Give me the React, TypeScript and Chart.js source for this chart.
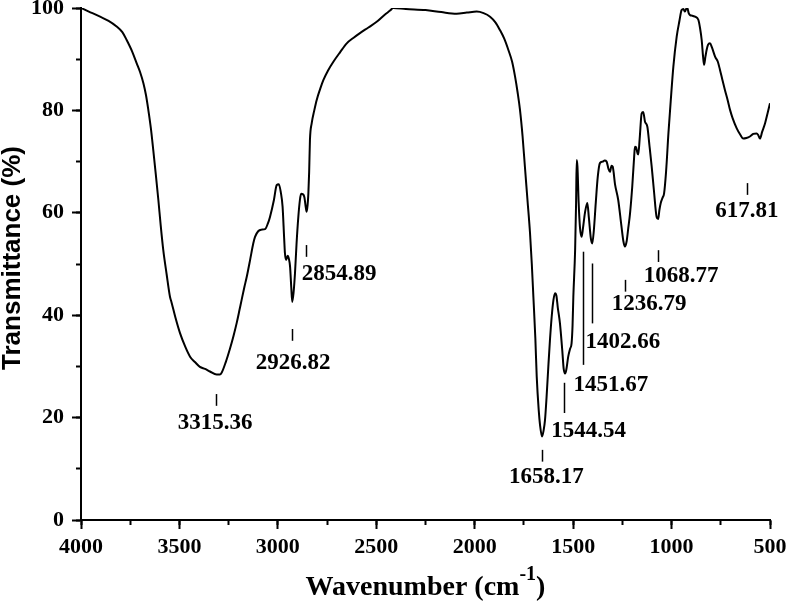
import React, { useEffect, useRef } from 'react';
import { Chart, registerables } from 'chart.js';

Chart.register(...registerables);

// ---- Spectrum data (wavenumber in cm-1, transmittance in %) ----
const wavenumbers = [
  4000, 3960, 3903, 3860, 3819, 3790, 3768, 3740, 3717, 3700, 3683, 3670, 3658, 3645, 3633, 3620, 3607, 3595, 3582, 3565,
  3548, 3540, 3520, 3497, 3470, 3446, 3420, 3396, 3370, 3345, 3311, 3295, 3285, 3265, 3243, 3225, 3209, 3195, 3184, 3170,
  3158, 3140, 3125, 3116, 3100, 3085, 3065, 3050, 3040, 3020, 3006, 2995, 2985, 2976, 2968, 2964, 2958, 2950, 2944, 2938,
  2932, 2927, 2920, 2913, 2905, 2896, 2888, 2882, 2872, 2865, 2858, 2854, 2849, 2845, 2841, 2837, 2828, 2815, 2803, 2785,
  2769, 2745, 2718, 2685, 2650, 2615, 2583, 2540, 2498, 2460, 2430, 2414, 2350, 2250, 2170, 2092, 2040, 1990, 1955, 1922,
  1895, 1872, 1850, 1829, 1810, 1795, 1782, 1770, 1757, 1745, 1732, 1719, 1710, 1702, 1692, 1685, 1675, 1668, 1658, 1650,
  1643, 1635, 1626, 1618, 1609, 1600, 1592, 1585, 1578, 1567, 1555, 1548, 1541, 1535, 1525, 1515, 1508, 1503, 1499, 1490,
  1485, 1482, 1478, 1472, 1465, 1457, 1450, 1440, 1428, 1420, 1410, 1403, 1395, 1385, 1375, 1364, 1350, 1340, 1330, 1320,
  1313, 1305, 1299, 1287, 1271, 1255, 1245, 1237, 1228, 1220, 1211, 1200, 1190, 1186, 1180, 1177, 1172, 1169, 1162, 1152,
  1144, 1135, 1123, 1112, 1101, 1090, 1076, 1068, 1062, 1055, 1045, 1038, 1028, 1016, 1004, 991, 974, 960, 949, 940,
  932, 925, 920, 913, 906, 895, 881, 864, 855, 847, 840, 835, 828, 822, 815, 805, 795, 779, 765, 754,
  742, 729, 715, 703, 690, 669, 650, 636, 620, 602, 585, 568, 560, 551, 540, 525, 512, 500,
];
const transmittance = [
  100, 99.3, 98.3, 97.5, 96.4, 95.3, 93.75, 91.5, 89.2, 87.5, 85.3, 83, 80.1, 76.5, 72.3, 67.5, 62.5, 57.5, 52.7, 48,
  43.6, 42.5, 39.5, 36.5, 33.8, 31.9, 30.8, 29.9, 29.5, 29.0, 28.4, 28.4, 28.8, 30.8, 33.5, 36, 38.5, 41, 43, 45.5,
  47.5, 51, 54, 55.3, 56.4, 56.7, 56.8, 58, 59.2, 62.5, 65.4, 65.6, 64, 61.2, 55, 52.1, 50.8, 51.6, 51, 49.5,
  45.5, 42.6, 44.5, 48.2, 54, 59.2, 62.5, 63.7, 63.6, 63, 61, 60.2, 61.5, 63.8, 68, 74.2, 77.5, 80, 82, 84.2,
  85.9, 87.8, 89.5, 91.3, 93.1, 94.2, 95.1, 96.2, 97.3, 98.6, 99.5, 100, 99.8, 99.6, 99.2, 98.9, 99.1, 99.3, 99.0, 98.3,
  97.2, 95.7, 94, 91.8, 89.5, 86.6, 83.5, 80.1, 75, 69, 62.5, 56, 50, 43.6, 35.5, 28, 21.5, 18.5, 16.3, 17.5,
  19.5, 24, 30, 35, 39.7, 43, 44.3, 43.8, 41.5, 38.4, 33, 29.5, 28.6, 29.3, 31.9, 33.5, 34.5, 38, 43.6, 52.7,
  62, 70.3, 69, 62, 57, 55.3, 57, 60, 61.9, 59, 55, 54, 56.5, 62, 67, 69.7, 70, 70.2, 70, 68.5,
  68, 69.2, 69, 65.5, 62.5, 57.5, 54.5, 53.4, 54.5, 57, 59.9, 65, 71, 72.9, 72.8, 72.3, 71.5, 71.4, 74.5, 79.4,
  79.7, 77.8, 76.8, 73, 69, 64.5, 59.2, 58.8, 60.5, 61.9, 63, 63.8, 68, 75.5, 82, 88.5, 94.4, 97.5, 99.6, 99.8,
  99.3, 99.9, 100, 99, 98.6, 98.5, 98.3, 97.7, 96, 93.75, 90.5, 88.9, 90.5, 91.8, 92.8, 93.1, 92.3, 90.5, 89.5, 87.9,
  86, 84, 82, 80.1, 78.5, 76.5, 75.2, 74.5, 74.6, 74.9, 75.4, 75.5, 75.2, 74.5, 75.8, 77.5, 79.5, 81.4,
];

// ---- Axis ranges / ticks ----
const xMin = 500;
const xMax = 4000;
const xMajorStep = 500;
const xMinorStep = 250;
const yMin = 0;
const yMax = 100;
const yMajorStep = 20;
const yMinorStep = 10;

// ---- Peak annotations ----
const peakLabels = ['3315.36', '2926.82', '2854.89', '1658.17', '1544.54', '1451.67', '1402.66', '1236.79', '1068.77', '617.81'];
const peakLineX = [3315.36, 2926.82, 2854.89, 1658.17, 1544.54, 1451.67, 1402.66, 1236.79, 1068.77, 617.81];
const peakLineTop = [24.6, 37.3, 53.7, 13.7, 26.8, 52.4, 50.1, 46.9, 52.7, 65.8];
const peakLineBottom = [22.3, 35.0, 51.4, 11.4, 20.9, 30.3, 38.4, 44.6, 50.4, 63.5];
const peakTextX = [3319, 2922, 2689, 1636, 1421, 1308, 1248, 1114, 951, 617];
const peakTextY = [17.8, 29.5, 46.9, 7.2, 16.2, 25.2, 33.6, 41, 46.5, 59.1];

// ---- Titles ----
const xTitleMain = 'Wavenumber (cm';
const xTitleSup = '-1';
const xTitleEnd = ')';
const yTitle = 'Transmittance (%)';

const SERIF = "'Times New Roman', 'Liberation Serif', serif";
const SANS = "Arial, 'Liberation Sans', sans-serif";

const annotationPlugin = {
  id: 'ftirAnnotations',
  afterDraw(chart: any) {
    const ctx = chart.ctx as CanvasRenderingContext2D;
    const xs = chart.scales.x;
    const ys = chart.scales.y;
    const area = chart.chartArea;
    ctx.save();
    ctx.fillStyle = '#000';
    ctx.strokeStyle = '#000';
    // peak markers
    ctx.lineWidth = 1.5;
    ctx.font = `bold 23px ${SERIF}`;
    ctx.textAlign = 'center';
    ctx.textBaseline = 'alphabetic';
    for (let i = 0; i < peakLabels.length; i++) {
      const lx = Math.round(xs.getPixelForValue(peakLineX[i])) + 0.5;
      ctx.beginPath();
      ctx.moveTo(lx, ys.getPixelForValue(peakLineTop[i]));
      ctx.lineTo(lx, ys.getPixelForValue(peakLineBottom[i]));
      ctx.stroke();
      ctx.fillText(peakLabels[i], xs.getPixelForValue(peakTextX[i]), ys.getPixelForValue(peakTextY[i]));
    }
    // x title with superscript
    const mainFont = `bold 28px ${SERIF}`;
    const supFont = `bold 20px ${SERIF}`;
    ctx.font = mainFont;
    const wMain = ctx.measureText(xTitleMain).width;
    const wEnd = ctx.measureText(xTitleEnd).width;
    ctx.font = supFont;
    const wSup = ctx.measureText(xTitleSup).width;
    const total = wMain + wSup + wEnd;
    const cx = (area.left + area.right) / 2;
    const base = chart.height - 7;
    let x0 = cx - total / 2;
    ctx.textAlign = 'left';
    ctx.font = mainFont;
    ctx.fillText(xTitleMain, x0, base);
    x0 += wMain;
    ctx.font = supFont;
    ctx.fillText(xTitleSup, x0, base - 15);
    x0 += wSup;
    ctx.font = mainFont;
    ctx.fillText(xTitleEnd, x0, base);
    // y title
    ctx.save();
    ctx.translate(20, (area.top + area.bottom) / 2 - 6);
    ctx.rotate(-Math.PI / 2);
    ctx.font = `bold 26px ${SANS}`;
    ctx.textAlign = 'center';
    ctx.textBaseline = 'alphabetic';
    ctx.fillText(yTitle, 0, 0);
    ctx.restore();
    ctx.restore();
  },
};

export default function App() {
  const canvasRef = useRef<HTMLCanvasElement | null>(null);

  useEffect(() => {
    const canvas = canvasRef.current;
    if (!canvas) return;
    const points = wavenumbers.map((w, i) => ({ x: w, y: transmittance[i] }));
    const tickFont = { family: SERIF, size: 22, weight: 'bold' as const };
    const plain = (v: any) => String(v);

    const chart = new Chart(canvas, {
      type: 'line',
      data: {
        datasets: [
          {
            data: points,
            borderColor: '#000',
            borderWidth: 2,
            pointRadius: 0,
            fill: false,
            cubicInterpolationMode: 'monotone',
            xAxisID: 'x',
            yAxisID: 'y',
          },
        ],
      },
      options: {
        responsive: false,
        animation: false,
        devicePixelRatio: 1,
        layout: { padding: { top: 8, right: 17, bottom: 0, left: 0 } },
        plugins: { legend: { display: false }, tooltip: { enabled: false }, title: { display: false } },
        scales: {
          x: {
            type: 'linear',
            position: 'bottom',
            reverse: true,
            min: xMin,
            max: xMax,
            weight: 1,
            ticks: { stepSize: xMajorStep, font: tickFont, color: '#000', padding: 5, maxRotation: 0, autoSkip: false, callback: plain },
            grid: { drawOnChartArea: false, tickLength: 9, tickWidth: 2, tickColor: '#000' },
            border: { display: true, color: '#000', width: 2 },
            afterFit: (s: any) => {
              s.height = 82;
              s.paddingLeft = 0;
              s.paddingRight = 0;
            },
          },
          xMinor: {
            type: 'linear',
            position: 'bottom',
            reverse: true,
            min: xMin,
            max: xMax,
            weight: 0,
            ticks: { stepSize: xMinorStep, display: false, autoSkip: false },
            grid: { drawOnChartArea: false, tickLength: 5, tickWidth: 2, tickColor: '#000' },
            border: { display: false },
            afterFit: (s: any) => {
              s.height = 0;
              s.paddingLeft = 0;
              s.paddingRight = 0;
            },
          },
          y: {
            type: 'linear',
            position: 'left',
            min: yMin,
            max: yMax,
            weight: 1,
            ticks: { stepSize: yMajorStep, font: tickFont, color: '#000', padding: 8, callback: plain },
            grid: { drawOnChartArea: false, tickLength: 9, tickWidth: 2, tickColor: '#000' },
            border: { display: true, color: '#000', width: 2 },
            afterFit: (s: any) => {
              s.width = 81;
              s.paddingTop = 0;
              s.paddingBottom = 0;
            },
          },
          yMinor: {
            type: 'linear',
            position: 'left',
            min: yMin,
            max: yMax,
            weight: 0,
            ticks: { stepSize: yMinorStep, display: false },
            grid: { drawOnChartArea: false, tickLength: 5, tickWidth: 2, tickColor: '#000' },
            border: { display: false },
            afterFit: (s: any) => {
              s.width = 0;
              s.paddingTop = 0;
              s.paddingBottom = 0;
            },
          },
        },
      },
      plugins: [annotationPlugin],
    } as any);

    return () => {
      chart.destroy();
    };
  }, []);

  return (
    <div style={{ position: 'fixed', left: 0, top: 0, width: 787, height: 602, background: '#fff' }}>
      <canvas ref={canvasRef} width={787} height={602} style={{ width: 787, height: 602, display: 'block' }} />
    </div>
  );
}
